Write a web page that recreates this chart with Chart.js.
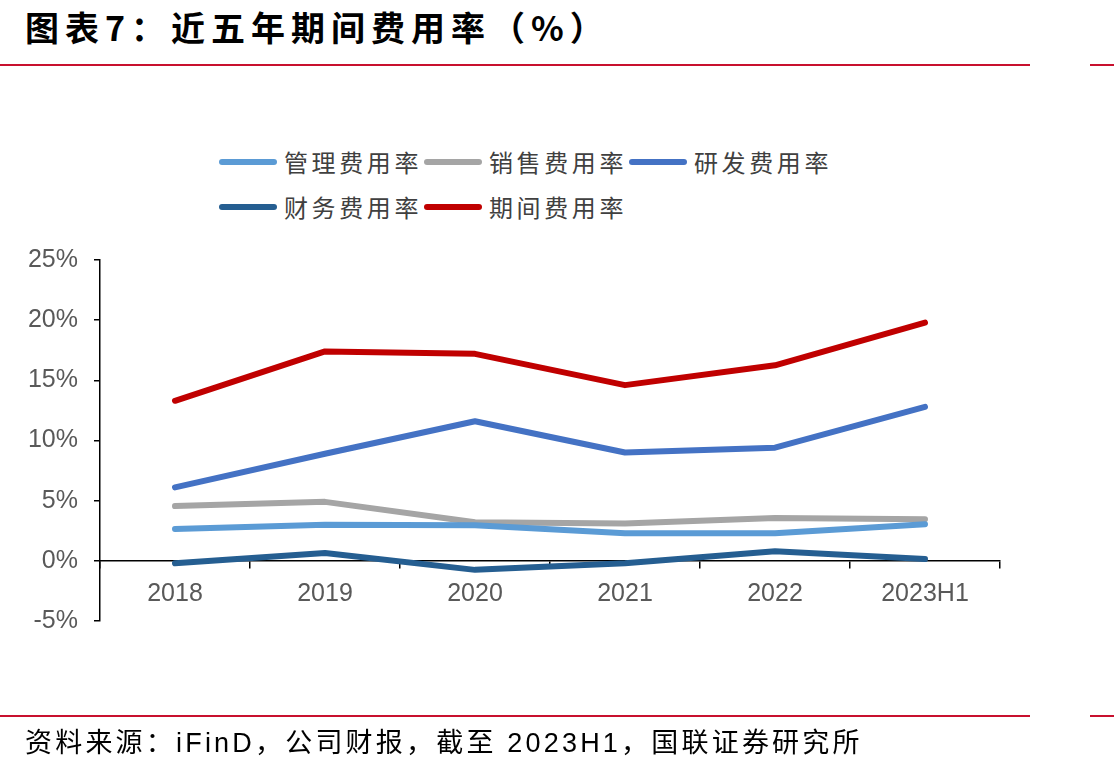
<!DOCTYPE html>
<html>
<head>
<meta charset="utf-8">
<script src="https://cdn.jsdelivr.net/npm/chart.js@4.4.0/dist/chart.umd.min.js"></script>
<style>
  html, body { margin: 0; padding: 0; background: #fff; }
  #wrap { position: relative; width: 1114px; height: 769px; overflow: hidden; }
  #chart { position: absolute; left: 0; top: 0; }
  .title { position: absolute; left: 25px; top: 2px; font: 700 34px "Noto Sans CJK SC"; letter-spacing: 6px; color: #000; white-space: nowrap; }
  .rule { position: absolute; height: 2px; background: #c8102e; }
  .source { position: absolute; left: 25px; top: 721px; font: 400 27px "Liberation Sans", "Noto Sans CJK SC"; letter-spacing: 3.2px; color: #000; white-space: nowrap; }
  #legend { position: absolute; left: 219px; top: 139px; width: 640px; display: flex; flex-wrap: wrap; }
  .item { width: 205px; height: 45px; display: flex; align-items: center; }
  .swatch { width: 58px; height: 6px; border-radius: 3px; margin-right: 7px; }
  .label { font: 400 24px "Noto Sans CJK SC"; letter-spacing: 3.6px; color: #404040; white-space: nowrap; }
</style>
</head>
<body>
<div id="wrap">
  <div class="title">图表7：近五年期间费用率（%）</div>
  <div class="rule" style="left:0;top:64px;width:1030px"></div>
  <div class="rule" style="left:1090px;top:64px;width:24px"></div>
  <div id="legend"></div>
  <canvas id="chart" width="1114" height="769"></canvas>
  <div class="rule" style="left:0;top:715px;width:1030px"></div>
  <div class="rule" style="left:1090px;top:715px;width:24px"></div>
  <div class="source">资料来源：iFinD，公司财报，截至 2023H1，国联证券研究所</div>
</div>
<script>
// 期间费用率 (%)，按年份
const years      = ['2018', '2019', '2020', '2021', '2022', '2023H1'];
const guanli     = [2.65, 3.0, 2.95, 2.3, 2.3, 3.05];      // 管理费用率
const xiaoshou   = [4.55, 4.9, 3.2, 3.1, 3.55, 3.45];      // 销售费用率
const yanfa      = [6.1, 8.9, 11.6, 9.0, 9.4, 12.8];       // 研发费用率
const caiwu      = [-0.2, 0.65, -0.75, -0.2, 0.8, 0.15];   // 财务费用率
const qijian     = [13.3, 17.4, 17.2, 14.6, 16.25, 19.8];  // 期间费用率
const yTicks     = [-5, 0, 5, 10, 15, 20, 25];

const series = [
  { label: '管理费用率', data: guanli,   color: '#5b9bd5' },
  { label: '销售费用率', data: xiaoshou, color: '#a5a5a5' },
  { label: '研发费用率', data: yanfa,    color: '#4472c4' },
  { label: '财务费用率', data: caiwu,    color: '#255e91' },
  { label: '期间费用率', data: qijian,   color: '#c00000' },
];

// html legend, same order as the datasets
const legend = document.getElementById('legend');
series.forEach(s => {
  const item = document.createElement('div');
  item.className = 'item';
  item.innerHTML = `<span class="swatch" style="background:${s.color}"></span><span class="label">${s.label}</span>`;
  legend.appendChild(item);
});

const tickColor = '#595959';
const tickFont  = { family: '"Liberation Sans", Arial', size: 25 };

new Chart(document.getElementById('chart').getContext('2d'), {
  type: 'line',
  data: {
    labels: years,
    datasets: series.map(s => ({
      label:           s.label,
      data:            s.data,
      borderColor:     s.color,
      backgroundColor: s.color,
      borderWidth:     6,
      pointRadius:     0,
      tension:         0,
      borderCapStyle:  'round',
      borderJoinStyle: 'round',
    })),
  },
  options: {
    responsive: false,
    animation: false,
    layout: { padding: { top: 260, bottom: 148, left: 0, right: 114 } },
    plugins: {
      legend:  { display: false },
      tooltip: { enabled: false },
    },
    scales: {
      x: {
        position: { y: 0 },
        offset: true,
        ticks:  { color: tickColor, font: tickFont, padding: 11, maxRotation: 0 },
        grid:   { offset: true, drawOnChartArea: false, drawTicks: true, tickLength: 7, color: '#000', lineWidth: 1.5 },
        border: { display: true, color: '#000', width: 1.5 },
      },
      y: {
        min: -5,
        max: 25,
        afterBuildTicks: axis => { axis.ticks = yTicks.map(v => ({ value: v })); },
        afterFit: axis => { axis.width = 100; },
        ticks:  { color: tickColor, font: tickFont, padding: 16, callback: v => v + '%' },
        grid:   { drawOnChartArea: false, drawTicks: true, tickLength: 6, color: '#000', lineWidth: 1.5 },
        border: { display: true, color: '#000', width: 1.5 },
      },
    },
  },
});
</script>
</body>
</html>
